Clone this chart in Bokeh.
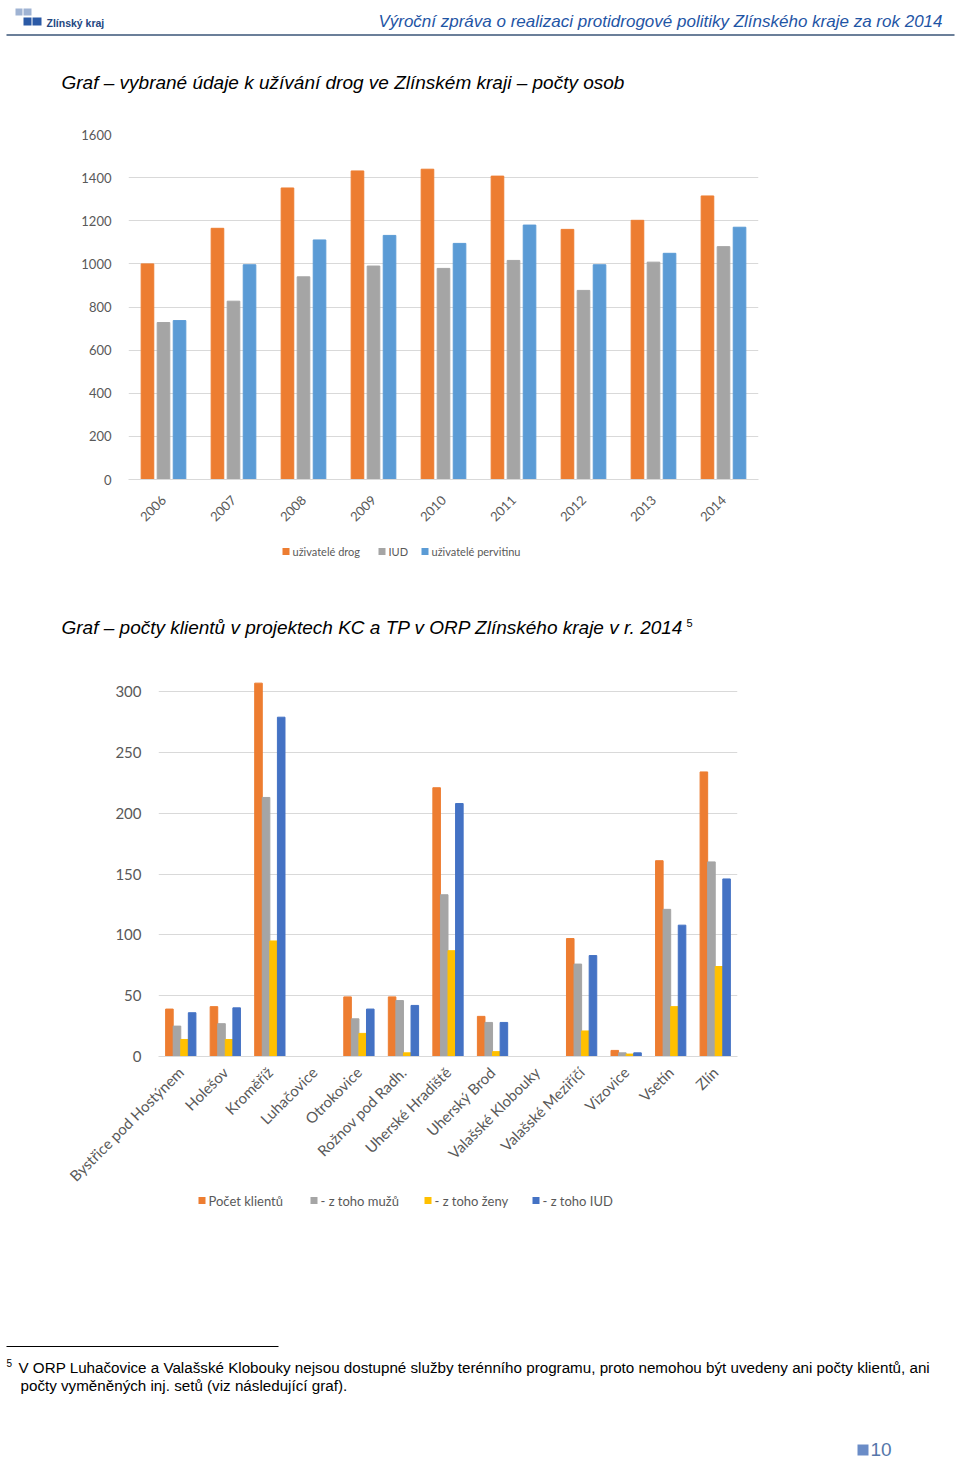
import math
from bokeh.plotting import figure
from bokeh.models import Range1d, FactorRange, ColumnDataSource, FixedTicker
from bokeh.layouts import column
from bokeh.embed import file_html
from bokeh.resources import INLINE
from bokeh.core.properties import value
from bokeh.transform import dodge

# ---------------- data ----------------
years = ["2006", "2007", "2008", "2009", "2010", "2011", "2012", "2013", "2014"]
uzivatele_drog = [1000, 1165, 1352, 1431, 1439, 1407, 1160, 1202, 1315]
iud = [728, 827, 940, 990, 979, 1016, 877, 1008, 1080]
uzivatele_pervitinu = [737, 996, 1111, 1132, 1095, 1180, 996, 1049, 1170]
ticks1 = [0, 200, 400, 600, 800, 1000, 1200, 1400, 1600]
legend1 = ["uživatelé drog", "IUD", "uživatelé pervitinu"]

orp = ["Bystřice pod Hostýnem", "Holešov", "Kroměříž", "Luhačovice", "Otrokovice",
       "Rožnov pod Radh.", "Uherské Hradiště", "Uherský Brod", "Valašské Klobouky",
       "Valašské Meziříčí", "Vizovice", "Vsetín", "Zlín"]
pocet_klientu = [39, 41, 307, 0, 49, 49, 221, 33, 0, 97, 5, 161, 234]
z_toho_muzu = [25, 27, 213, 0, 31, 46, 133, 28, 0, 76, 3, 121, 160]
z_toho_zeny = [14, 14, 95, 0, 19, 3, 87, 4, 0, 21, 2, 41, 74]
z_toho_iud = [36, 40, 279, 0, 39, 42, 208, 28, 0, 83, 3, 108, 146]
ticks2 = [0, 50, 100, 150, 200, 250, 300]
legend2 = ["Počet klientů", "- z toho mužů", "- z toho ženy", "- z toho IUD"]

ORANGE = "#ED7D31"
GRAY = "#A5A5A5"
BLUE1 = "#5B9BD5"
BLUE2 = "#4472C4"
YELLOW = "#FFC000"
GRID = "#D9D9D9"
LABEL = "#595959"
W = 956
TXT = value("Liberation Sans")


def panel(y0, y1):
    p = figure(width=W, height=y1 - y0, x_range=Range1d(0, W), y_range=Range1d(y1, y0),
               output_backend="svg", toolbar_location=None, min_border=0,
               x_axis_type=None, y_axis_type=None, frame_align=False)
    p.grid.visible = False
    p.outline_line_color = None
    return p


def txt(p, x, y, s, size, color="black", style="normal", align="left", font=TXT):
    p.text(x=[x], y=[y], text=[s], text_font=font, text_font_size=size,
           text_font_style=style, text_color=color, text_align=align, text_baseline="middle")


def legend(p, xs, yc, labels, colors, size, font_size):
    h = size / 2
    p.quad(left=[x for x in xs], right=[x + size for x in xs],
           top=[yc - h] * len(xs), bottom=[yc + h] * len(xs), color=colors, line_color=None)
    p.text(x=[x + size + 3 for x in xs], y=[yc] * len(xs), text=labels,
           text_font=value("Lato"), text_font_size=font_size, text_color=LABEL,
           text_align="left", text_baseline="middle")


def style_axes(p, xsize, ysize, ystand, xstand):
    p.outline_line_color = None
    p.xgrid.visible = False
    p.ygrid.grid_line_color = GRID
    p.yaxis.axis_line_color = None
    p.yaxis.major_tick_line_color = None
    p.yaxis.minor_tick_line_color = None
    p.yaxis.major_label_standoff = ystand
    p.xaxis.axis_line_color = GRID
    p.xaxis.major_tick_line_color = None
    p.xaxis.major_label_orientation = math.pi / 4
    p.xaxis.major_label_standoff = xstand
    p.xaxis.major_label_text_font_size = xsize
    p.yaxis.major_label_text_font_size = ysize
    for ax in (p.xaxis, p.yaxis):
        ax.major_label_text_font = "Lato"
        ax.major_label_text_color = LABEL


# ---------------- header panel ----------------
hdr = panel(0, 110)
hdr.quad(left=[15, 23], right=[22, 31], top=[8, 8], bottom=[15, 15], color="#9FB3D3", line_color=None)
hdr.quad(left=[23, 32], right=[31, 41], top=[17, 17], bottom=[25, 25], color="#2B5AA6", line_color=None)
txt(hdr, 46, 22, "Zlínský kraj", "10.5px", color="#23467F", style="bold")
txt(hdr, 942, 21, "Výroční zpráva o realizaci protidrogové politiky Zlínského kraje za rok 2014",
    "17px", color="#1F55A5", style="italic", align="right")
hdr.segment(x0=[6], y0=[34.5], x1=[954], y1=[34.5], line_color="#6B7F99", line_width=2)
txt(hdr, 61, 82, "Graf – vybrané údaje k užívání drog ve Zlínském kraji – počty osob",
    "19px", style="italic")

# ---------------- chart 1 ----------------
src1 = ColumnDataSource(dict(x=years, a=uzivatele_drog, b=iud, c=uzivatele_pervitinu))
p1 = figure(width=W, height=420, x_range=FactorRange(*years), y_range=Range1d(0, 1600),
            output_backend="svg", toolbar_location=None, frame_align=False,
            min_border_left=128, min_border_right=W - 758, min_border_top=24, min_border_bottom=51)
p1.vbar(x=dodge("x", -0.229, range=p1.x_range), top="a", width=0.18, source=src1, color=ORANGE)
p1.vbar(x=dodge("x", 0.0, range=p1.x_range), top="b", width=0.18, source=src1, color=GRAY)
p1.vbar(x=dodge("x", 0.229, range=p1.x_range), top="c", width=0.18, source=src1, color=BLUE1)
p1.yaxis.ticker = FixedTicker(ticks=ticks1)
style_axes(p1, "13px", "13px", 11, 12)

# ---------------- legend 1 + chart 2 title ----------------
mid = panel(530, 660)
legend(mid, [282, 378, 421], 551, legend1, [ORANGE, GRAY, BLUE1], 7, "11px")
txt(mid, 61, 627, "Graf – počty klientů v projektech KC a TP v ORP Zlínského kraje v r. 2014",
    "19px", style="italic")
txt(mid, 686, 622, "5", "11px")

# ---------------- chart 2 ----------------
src2 = ColumnDataSource(dict(x=orp, a=pocet_klientu, b=z_toho_muzu, c=z_toho_zeny, d=z_toho_iud))
p2 = figure(width=W, height=534, x_range=FactorRange(*orp), y_range=Range1d(0, 310),
            output_backend="svg", toolbar_location=None, frame_align=False,
            min_border_left=158, min_border_right=W - 737, min_border_top=19, min_border_bottom=138)
bw = 0.17
p2.vbar(x=dodge("x", -1.5 * bw, range=p2.x_range), top="a", width=bw, source=src2, color=ORANGE)
p2.vbar(x=dodge("x", -0.5 * bw, range=p2.x_range), top="b", width=bw, source=src2, color=GRAY)
p2.vbar(x=dodge("x", 0.5 * bw, range=p2.x_range), top="c", width=bw, source=src2, color=YELLOW)
p2.vbar(x=dodge("x", 1.5 * bw, range=p2.x_range), top="d", width=bw, source=src2, color=BLUE2)
p2.yaxis.ticker = FixedTicker(ticks=ticks2)
style_axes(p2, "15px", "15px", 11, 7)

# ---------------- legend 2 + footer ----------------
ft = panel(1194, 1461)
legend(ft, [198, 310, 424, 532], 1200, legend2, [ORANGE, GRAY, YELLOW, BLUE2], 7, "13px")
ft.segment(x0=[6], y0=[1346], x1=[278], y1=[1346], line_color="black", line_width=1)
txt(ft, 6, 1362, "5", "10px")
txt(ft, 18, 1367, "V ORP Luhačovice a Valašské Klobouky nejsou dostupné služby terénního programu, "
    "proto nemohou být uvedeny ani počty klientů, ani", "15.2px")
txt(ft, 20, 1385, "počty vyměněných inj. setů (viz následující graf).", "15.2px")
ft.quad(left=[857], right=[868], top=[1444], bottom=[1455], color="#6A8CC7", line_color=None)
txt(ft, 870, 1449, "10", "19px", color="#5577AA")

layout = column(hdr, p1, mid, p2, ft, spacing=0)
open("out.html", "w").write(file_html(layout, INLINE))
